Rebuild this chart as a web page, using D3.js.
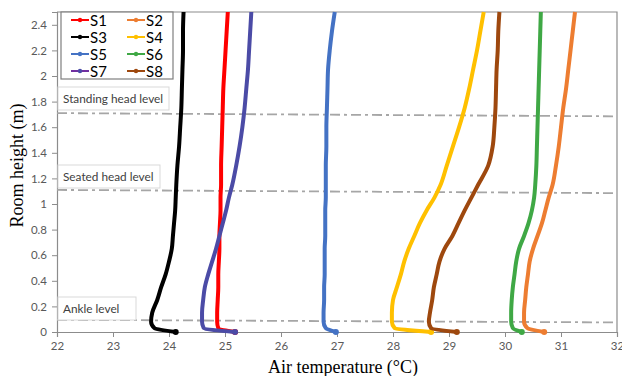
<!doctype html>
<html>
<head>
    <meta charset="utf-8">
    <script src="https://d3js.org/d3.v7.min.js"></script>
    <style>
        body { margin: 0; background: #fff; }
    </style>
</head>
<body>
    <svg width="622" height="376"></svg>
    <script>
        // Heights shared by every series (m)
        const heights = [0, 0.03, 0.08, 0.15, 0.25, 0.35, 0.45, 0.55, 0.65, 0.75, 0.85, 0.95,
                         1.05, 1.15, 1.3, 1.45, 1.6, 1.75, 1.9, 2.05, 2.2, 2.35, 2.5];

        // Air temperature (°C) at each height
        const s1 = [25.18, 24.88, 24.86, 24.86, 24.87, 24.88, 24.88, 24.89, 24.9, 24.9, 24.91, 24.92,
                    24.92, 24.93, 24.93, 24.94, 24.95, 24.96, 24.97, 24.99, 25.01, 25.03, 25.05];
        const s2 = [30.7, 30.4, 30.34, 30.34, 30.36, 30.38, 30.41, 30.44, 30.5, 30.58, 30.66, 30.72,
                    30.78, 30.85, 30.91, 30.96, 31.0, 31.04, 31.09, 31.13, 31.17, 31.21, 31.25];
        const s3 = [24.12, 23.74, 23.68, 23.7, 23.79, 23.86, 23.94, 24.0, 24.05, 24.07, 24.09, 24.11,
                    24.12, 24.13, 24.15, 24.18, 24.2, 24.22, 24.23, 24.24, 24.25, 24.25, 24.26];
        const s4 = [28.68, 28.03, 27.98, 27.98, 28.0, 28.07, 28.14, 28.2, 28.28, 28.38, 28.48, 28.6,
                    28.74, 28.85, 28.96, 29.07, 29.18, 29.28, 29.36, 29.43, 29.5, 29.56, 29.62];
        const s5 = [26.98, 26.8, 26.76, 26.76, 26.77, 26.77, 26.78, 26.78, 26.78, 26.79, 26.79, 26.79,
                    26.8, 26.8, 26.8, 26.81, 26.81, 26.82, 26.83, 26.84, 26.87, 26.91, 26.96];
        const s6 = [30.3, 30.14, 30.11, 30.11, 30.12, 30.14, 30.17, 30.2, 30.25, 30.34, 30.42, 30.48,
                    30.52, 30.54, 30.56, 30.57, 30.58, 30.59, 30.6, 30.61, 30.62, 30.63, 30.64];
        const s7 = [25.18, 24.62, 24.59, 24.59, 24.61, 24.64, 24.7, 24.77, 24.84, 24.9, 24.96, 25.02,
                    25.07, 25.13, 25.2, 25.26, 25.31, 25.35, 25.38, 25.41, 25.43, 25.45, 25.47];
        const s8 = [29.14, 28.68, 28.64, 28.66, 28.7, 28.73, 28.78, 28.83, 28.92, 29.06, 29.17, 29.28,
                    29.4, 29.52, 29.7, 29.78, 29.81, 29.83, 29.84, 29.85, 29.87, 29.88, 29.9];

        const seriesNames = ["S1", "S2", "S3", "S4", "S5", "S6", "S7", "S8"];
        const seriesValues = [s1, s2, s3, s4, s5, s6, s7, s8];
        const seriesColors = ["#ff0000", "#ed7d31", "#000000", "#ffc000", "#4472c4", "#3fa845", "#4b4ba6", "#9e480e"];

        const xTicks = [22, 23, 24, 25, 26, 27, 28, 29, 30, 31, 32];
        const yTicks = [0, 0.2, 0.4, 0.6, 0.8, 1, 1.2, 1.4, 1.6, 1.8, 2, 2.2, 2.4];

        // Reference levels: label, height at left edge, height at right edge
        const levelNames = ["Standing head level", "Seated head level", "Ankle level"];
        const levelLeft = [1.71, 1.11, 0.095];
        const levelRight = [1.685, 1.085, 0.075];

        const margin = { top: 12, right: 5, bottom: 44, left: 57 };
        const width = 622 - margin.left - margin.right;
        const height = 376 - margin.top - margin.bottom;

        const svg = d3.select("svg")
          .append("g")
          .attr("transform", `translate(${margin.left},${margin.top})`);

        const x = d3.scaleLinear().domain([22, 32]).range([0, width]);
        const y = d3.scaleLinear().domain([0, 2.5]).range([height, 0]);

        const tickFont = "Lato, 'Open Sans', sans-serif";
        const titleFont = "'Liberation Serif', 'Times New Roman', serif";

        // plot frame (top and right)
        svg.append("path")
          .attr("d", `M0,${y(2.5)}H${x(32)}V${y(0)}`)
          .attr("fill", "none")
          .attr("stroke", "#8c8c8c")
          .attr("stroke-width", 1.2);

        // axes
        const xAxis = svg.append("g")
          .attr("transform", `translate(0,${height})`)
          .call(d3.axisBottom(x).tickValues(xTicks).tickSize(5).tickPadding(5).tickFormat(d3.format("d")));
        const yAxis = svg.append("g")
          .call(d3.axisLeft(y).tickValues(yTicks).tickSize(5).tickPadding(5).tickFormat(d => String(+d.toFixed(1))));

        [xAxis, yAxis].forEach(a => {
          a.select(".domain").attr("stroke", "#8c8c8c").attr("stroke-width", 1.2);
          a.selectAll(".tick line").attr("stroke", "#8c8c8c");
          a.selectAll(".tick text")
            .attr("fill", "#595959")
            .style("font-family", tickFont)
            .style("font-size", "11.5px");
        });

        // reference dash-dot lines
        svg.selectAll(".level")
          .data(levelNames)
          .enter().append("line")
          .attr("x1", x(22)).attr("x2", x(32))
          .attr("y1", (d, i) => y(levelLeft[i]))
          .attr("y2", (d, i) => y(levelRight[i]))
          .attr("stroke", "#a6a6a6")
          .attr("stroke-width", 1.8)
          .attr("stroke-dasharray", "10,4,3,4");

        // series lines
        const line = d3.line()
          .x(d => x(d[0]))
          .y(d => y(d[1]))
          .curve(d3.curveMonotoneY);

        seriesValues.forEach((vals, i) => {
          const pts = vals.map((v, j) => [v, heights[j]]);
          svg.append("path")
            .datum(pts)
            .attr("fill", "none")
            .attr("stroke", seriesColors[i])
            .attr("stroke-width", 4)
            .attr("stroke-linejoin", "round")
            .attr("d", line);
          svg.append("circle")
            .attr("cx", x(pts[0][0]))
            .attr("cy", y(pts[0][1]))
            .attr("r", 3)
            .attr("fill", seriesColors[i]);
        });

        // level label boxes
        const boxTop = [87, 165, 297];
        const boxW = [111, 102, 78];
        levelNames.forEach((name, i) => {
          const g = svg.append("g").attr("transform", `translate(1,${boxTop[i] - margin.top})`);
          g.append("rect")
            .attr("width", boxW[i]).attr("height", 23)
            .attr("fill", "#fff")
            .attr("stroke", "#d9d9d9");
          g.append("text")
            .attr("x", 5).attr("y", 15.5)
            .attr("fill", "#404040")
            .style("font-family", tickFont)
            .style("font-size", "11.8px")
            .text(name);
        });

        // legend
        const legend = svg.append("g").attr("transform", `translate(4,0)`);
        legend.append("rect")
          .attr("width", 112).attr("height", 67)
          .attr("fill", "#fff")
          .attr("stroke", "#7f7f7f")
          .attr("stroke-width", 1.2);
        seriesNames.forEach((name, i) => {
          const col = i % 2, row = Math.floor(i / 2);
          const g = legend.append("g")
            .attr("transform", `translate(${10 + col * 56},${8 + row * 17})`);
          g.append("line")
            .attr("x1", 0).attr("x2", 18)
            .attr("stroke", i === 6 ? "#7030a0" : seriesColors[i])
            .attr("stroke-width", 2);
          g.append("circle").attr("cx", 9).attr("r", 2.2).attr("fill", seriesColors[i]);
          g.append("text")
            .attr("x", 19).attr("y", 5.5)
            .attr("fill", "#000")
            .style("font-family", tickFont)
            .style("font-size", "15px")
            .text(name);
        });

        // axis titles
        svg.append("text")
          .attr("x", width / 2 + 6)
          .attr("y", height + 41)
          .attr("text-anchor", "middle")
          .style("font-family", titleFont)
          .style("font-size", "18px")
          .text("Air temperature (°C)");

        svg.append("text")
          .attr("transform", `translate(-34,${y(1.3)}) rotate(-90)`)
          .attr("text-anchor", "middle")
          .style("font-family", titleFont)
          .style("font-size", "18px")
          .text("Room height (m)");
    </script>
</body>
</html>
